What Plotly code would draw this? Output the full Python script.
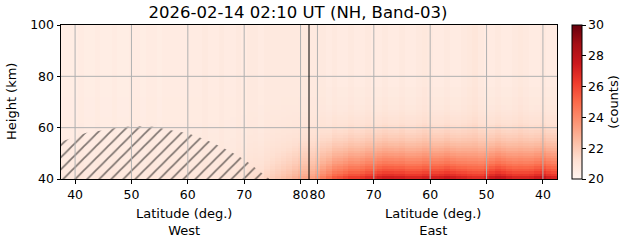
import numpy as np
import plotly.graph_objects as go

# ---------------- data ----------------
POLE = 81.5                       # seam between West and East halves (latitude)
lat_west = list(range(38, 82))    # column centres, West half (deg)
lat_east = list(range(81, 37, -1))  # column centres, East half (deg)
heights = list(np.arange(40.5, 100.0, 1.0))  # row centres (km)

# background counts per column (upper levels)
base_west = [20.5, 20.5, 20.5, 20.6, 20.5, 20.5, 20.6, 20.5, 20.5, 20.6,
             20.5, 20.5, 20.6, 20.6, 20.5, 20.6, 20.6, 20.5, 20.6, 20.6,
             20.6, 20.6, 20.6, 20.6, 20.6, 20.7, 20.6, 20.6, 20.7, 20.6,
             20.6, 20.7, 20.6, 20.7, 20.7, 20.6, 20.7, 20.7, 20.7, 20.7,
             20.7, 20.7, 20.7, 20.7]
base_east = [20.7, 20.7, 20.7, 20.6, 20.7, 20.6, 20.6, 20.7, 20.6, 20.6,
             20.7, 20.6, 20.6, 20.7, 20.6, 20.6, 20.7, 20.6, 20.6, 20.7,
             20.8, 20.7, 20.6, 20.6, 20.7, 20.6, 20.6, 20.7, 20.8, 20.9,
             20.7, 20.6, 20.6, 20.7, 20.6, 20.6, 20.7, 20.8, 20.7, 20.6,
             20.6, 20.7, 20.6, 20.6]

# bottom-row excess counts per column
amp_west = [0.3, 0.3, 0.3, 0.3, 0.3, 0.3, 0.3, 0.3, 0.3, 0.3,
            0.3, 0.3, 0.3, 0.3, 0.3, 0.3, 0.3, 0.3, 0.3, 0.3,
            0.3, 0.3, 0.3, 0.3, 0.3, 0.3, 0.3, 0.3, 0.3, 0.35,
            0.4, 0.45, 0.5, 0.6, 0.7, 0.85, 1.0, 1.2, 1.4, 1.6,
            1.8, 2.1, 2.4, 2.5]
amp_east = [2.6, 3.0, 3.6, 4.2, 4.7, 5.0, 5.3, 5.5, 5.6, 5.8,
            6.0, 6.2, 6.5, 6.6, 6.7, 6.6, 6.5, 6.4, 6.4, 6.3,
            6.4, 6.5, 6.6, 6.7, 6.8, 6.7, 6.5, 6.3, 6.0, 5.8,
            6.0, 6.4, 6.8, 7.0, 6.9, 6.6, 6.3, 6.2, 6.3, 6.5,
            6.8, 6.9, 6.6, 6.4]
# relative vertical profile of the excess (rows 40.5 .. 99.5 km)
profile = [1.00, 0.90, 0.82, 0.75, 0.69, 0.63, 0.57, 0.52, 0.47, 0.43,
           0.39, 0.35, 0.31, 0.28, 0.25, 0.22, 0.19, 0.17, 0.15, 0.13,
           0.11, 0.09, 0.08, 0.07, 0.06, 0.05, 0.04, 0.03, 0.03, 0.02,
           0.02, 0.02, 0.01, 0.01, 0.01, 0.01, 0.0, 0.0, 0.0, 0.0,
           0.0, 0.0, 0.0, 0.0, 0.0, 0.0, 0.0, 0.0, 0.0, 0.0,
           0.0, 0.0, 0.0, 0.0, 0.0, 0.0, 0.0, 0.0, 0.0, 0.0]

# hatched (masked) region on the West side
hatch_lat = [37.5, 40, 42, 45, 48, 51, 54, 57, 60, 63, 66, 69, 71, 73, 74.5]
hatch_hgt = [54.5, 56.5, 58, 59, 60.3, 60.6, 60.4, 59, 57.8, 55.5, 52.5, 49, 46, 42.5, 40]

west_ticks = [40, 50, 60, 70, 80]
east_ticks = [80, 70, 60, 50, 40]
height_ticks = [40, 60, 80, 100]
cbar_ticks = [20, 22, 24, 26, 28, 30]

REDS = ['rgb(255,245,240)', 'rgb(254,224,210)', 'rgb(252,187,161)',
        'rgb(252,146,114)', 'rgb(251,106,74)', 'rgb(239,59,44)',
        'rgb(203,24,29)', 'rgb(165,15,21)', 'rgb(103,0,13)']

# ---------------- build ----------------
def east_u(lat):
    return 2 * POLE - lat

x_centres = lat_west + [east_u(l) for l in lat_east]
amp_all = np.array(amp_west + amp_east)
base_all = np.array(base_west + base_east)
z = base_all[None, :] + np.outer(np.array(profile), amp_all)

FONT = "DejaVu Sans"
TICK = 12.5
LABEL = 13

fig = go.Figure()
fig.add_trace(go.Heatmap(
    x=x_centres, y=heights, z=z, zsmooth=False,
    colorscale=[[i / (len(REDS) - 1), c] for i, c in enumerate(REDS)],
    zmin=20, zmax=30,
    colorbar=dict(
        x=1 + 15 / 496, xanchor='left', xpad=0,
        y=0.5, yanchor='middle', ypad=0,
        len=1, lenmode='fraction', thickness=10,
        outlinewidth=1, outlinecolor='black',
        ticks='outside', ticklen=3.5, tickcolor='black',
        tickvals=cbar_ticks, tickfont=dict(family=FONT, size=TICK, color='black'),
        title=dict(text='(counts)', side='right',
                   font=dict(family=FONT, size=LABEL, color='black')),
    ),
    hoverinfo='skip',
))

shapes = []
grid_x = west_ticks + [east_u(l) for l in east_ticks]
for gx in grid_x:
    shapes.append(dict(type='line', xref='x', yref='y', x0=gx, x1=gx, y0=40, y1=100,
                       line=dict(color='#b0b0b0', width=1), layer='above'))
for gy in height_ticks[1:-1]:
    shapes.append(dict(type='line', xref='x', yref='y', x0=37.5, x1=east_u(37.5), y0=gy, y1=gy,
                       line=dict(color='#b0b0b0', width=1), layer='above'))
shapes.append(dict(type='line', xref='x', yref='y', x0=POLE, x1=POLE, y0=40, y1=100,
                   line=dict(color='black', width=1), layer='above'))

annotations = [
    dict(text='Latitude (deg.)<br>West', xref='paper', yref='paper',
         x=(184 - 61) / 496, y=(179 - 222) / 154, xanchor='center', yanchor='middle',
         showarrow=False, font=dict(family=FONT, size=LABEL, color='black')),
    dict(text='Latitude (deg.)<br>East', xref='paper', yref='paper',
         x=(432.5 - 61) / 496, y=(179 - 222) / 154, xanchor='center', yanchor='middle',
         showarrow=False, font=dict(family=FONT, size=LABEL, color='black')),
    dict(text='Height (km)', xref='paper', yref='paper',
         x=(11 - 61) / 496, y=0.5, xanchor='center', yanchor='middle', textangle=-90,
         showarrow=False, font=dict(family=FONT, size=LABEL, color='black')),
]

fig.update_layout(
    width=631, height=243,
    margin=dict(l=61, r=74, t=25, b=64, autoexpand=False),
    paper_bgcolor='white', plot_bgcolor='white',
    title=dict(text='2026-02-14 02:10 UT (NH, Band-03)',
               x=(298 - 61) / 496, xref='paper', xanchor='center',
               y=1 - 12.5 / 243, yref='container', yanchor='middle',
               font=dict(family=FONT, size=16.5, color='black')),
    shapes=shapes, annotations=annotations, showlegend=False,
    xaxis=dict(range=[37.5, east_u(37.5)], tickvals=grid_x,
               ticktext=[str(t) for t in west_ticks + east_ticks], tickangle=0,
               showgrid=False, zeroline=False, showline=True, mirror=True,
               linecolor='black', linewidth=1, ticks='outside', ticklen=3.5,
               tickcolor='black', tickfont=dict(family=FONT, size=TICK, color='black'),
               layer='above traces'),
    yaxis=dict(range=[40, 100], tickvals=height_ticks,
               showgrid=False, zeroline=False, showline=True, mirror=True,
               linecolor='black', linewidth=1, ticks='outside', ticklen=3.5,
               tickcolor='black', tickfont=dict(family=FONT, size=TICK, color='black'),
               layer='above traces'),
)

# hatch drawn above the grid, as in the reference
fig.add_trace(go.Scatter(
    x=hatch_lat + [hatch_lat[0]], y=hatch_hgt + [40],
    mode='lines', line=dict(width=0, color='black'),
    fill='toself', fillcolor='rgba(0,0,0,0)',
    fillpattern=dict(shape='/', size=8.5, solidity=0.2,
                     fgcolor='black', bgcolor='rgba(0,0,0,0)'),
    showlegend=False, hoverinfo='skip',
))

fig.write_html("out.html")
